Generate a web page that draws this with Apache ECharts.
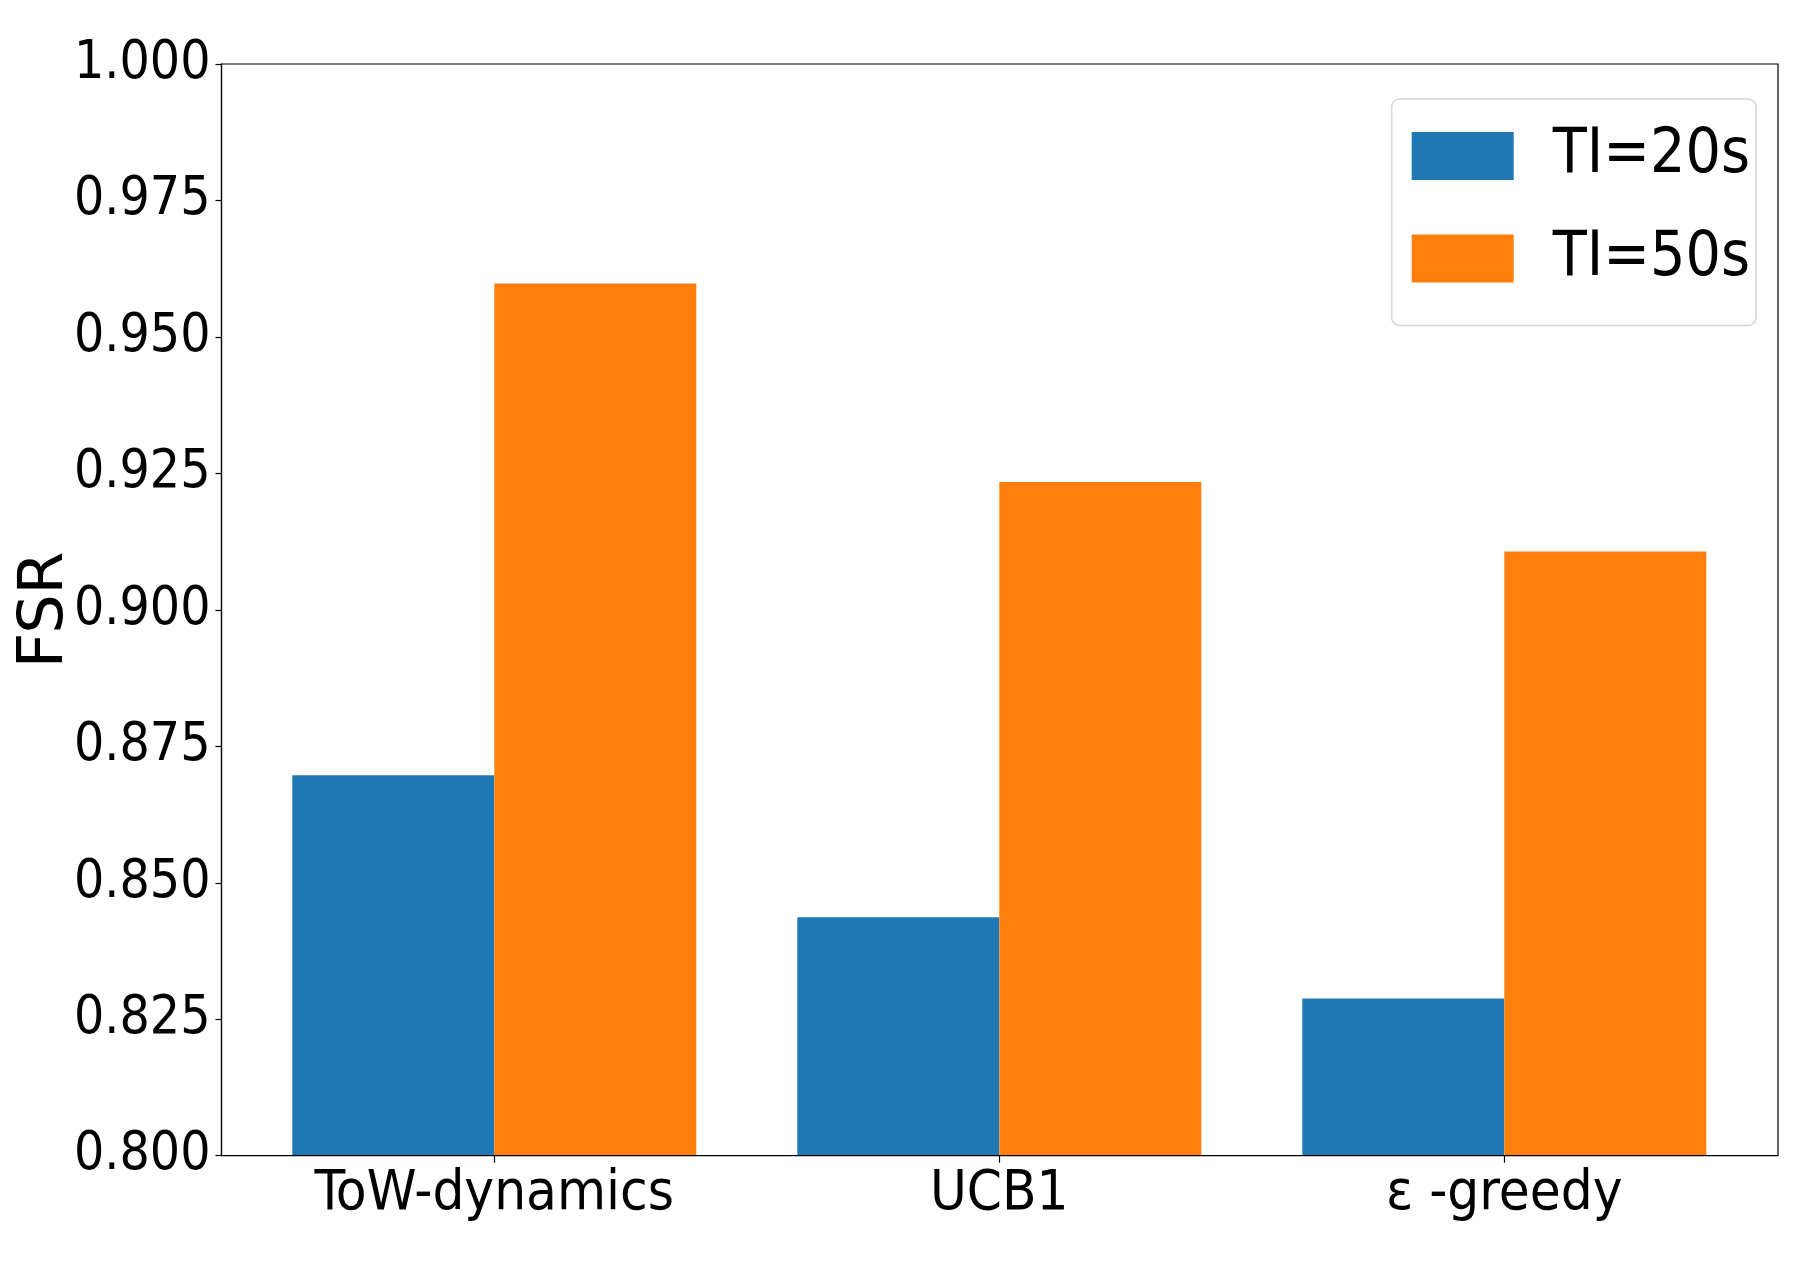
<!DOCTYPE html>
<html>
<head>
<meta charset="utf-8">
<script src="https://cdn.jsdelivr.net/npm/echarts@6/dist/echarts.min.js"></script>
<style>
html,body{margin:0;padding:0;background:#fff;}
#chart{width:1802px;height:1268px;}
</style>
</head>
<body>
<div id="chart"></div>
<script>
const categories = ['ToW-dynamics', 'UCB1', 'ε -greedy'];
const seriesNames = ['TI=20s', 'TI=50s'];
const ti20 = [0.8697, 0.8437, 0.8288];
const ti50 = [0.9598, 0.9234, 0.9107];
const yTicks = [0.800, 0.825, 0.850, 0.875, 0.900, 0.925, 0.950, 0.975, 1.000];

const FONT = "'Liberation Sans Narrow', 'DejaVu Sans Condensed', 'Liberation Sans', sans-serif";
const yMin = yTicks[0], yMax = yTicks[yTicks.length - 1];
const yStep = yTicks[1] - yTicks[0];

const chart = echarts.init(document.getElementById('chart'), null, {renderer: 'canvas'});
chart.setOption({
  backgroundColor: '#fff',
  animation: false,
  grid: [
    {left: 221.5, right: 24, top: 64, bottom: 112.3, show: true, borderColor: '#000', borderWidth: 1.2, backgroundColor: 'transparent', z: 0, containLabel: false, outerBoundsMode: 'none'},
    {left: 241.8, right: 45.2, top: 64, bottom: 112.3, containLabel: false, outerBoundsMode: 'none'}
  ],
  xAxis: [
    {gridIndex: 0, type: 'value', min: 0, max: 1, axisLabel: {show: false}, axisTick: {show: false}, splitLine: {show: false},
     axisLine: {show: true, lineStyle: {color: '#000', width: 1.2}}, z: 10},
    {gridIndex: 1, type: 'category', data: categories, axisLine: {show: false},
     axisTick: {show: true, alignWithLabel: true, length: 7, lineStyle: {color: '#000', width: 1.2}},
     axisLabel: {color: '#000', fontSize: 56, fontFamily: FONT, margin: 11, lineHeight: 56, interval: 0, hideOverlap: false}, z: 10}
  ],
  yAxis: [
    {gridIndex: 0, type: 'value', min: yMin, max: yMax, interval: yStep,
     name: 'FSR', nameLocation: 'middle', nameGap: 145, nameRotate: 90, nameMoveOverlap: false,
     nameTextStyle: {color: '#000', fontSize: 62, fontFamily: "'DejaVu Sans', sans-serif"},
     axisLine: {show: true, lineStyle: {color: '#000', width: 1.2}},
     axisTick: {show: true, length: 6, lineStyle: {color: '#000', width: 1.2}},
     axisLabel: {color: '#000', fontSize: 53, fontFamily: FONT, margin: 11, formatter: v => v.toFixed(3)},
     splitLine: {show: false}, z: 10},
    {gridIndex: 1, type: 'value', min: yMin, max: yMax, show: false, splitLine: {show: false}}
  ],
  legend: {
    orient: 'vertical', left: 1391.7, top: 99,
    itemWidth: 102, itemHeight: 48, itemGap: 40.5,
    padding: [26, 6, 36, 20],
    backgroundColor: '#fff', borderColor: '#d6d6d6', borderWidth: 1.5, borderRadius: 8,
    icon: 'rect',
    textStyle: {color: '#000', fontSize: 62, fontFamily: FONT, padding: [0, 0, 0, 34]},
    data: seriesNames
  },
  series: [
    {name: seriesNames[0], type: 'bar', xAxisIndex: 1, yAxisIndex: 1, data: ti20, barWidth: 202, barGap: '0%',
     itemStyle: {color: '#1f77b4'}},
    {name: seriesNames[1], type: 'bar', xAxisIndex: 1, yAxisIndex: 1, data: ti50, barWidth: 202, barGap: '0%',
     itemStyle: {color: '#ff7f0e'}}
  ]
});
</script>
</body>
</html>
